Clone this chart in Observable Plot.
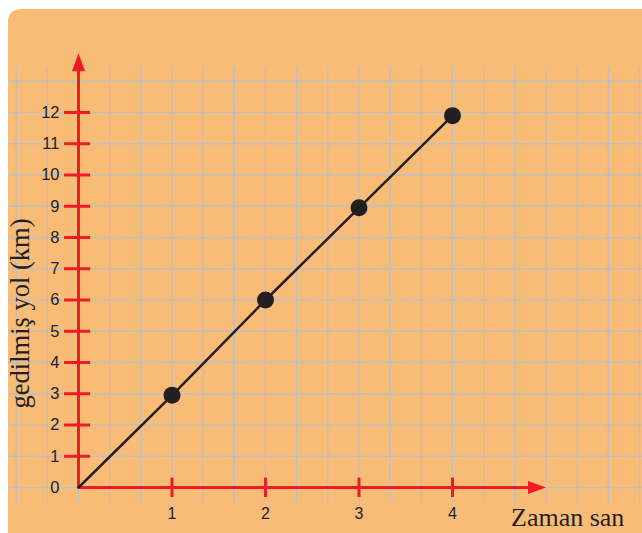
<!DOCTYPE html>
<html>
<head>
<meta charset="utf-8">
<script src="https://cdn.jsdelivr.net/npm/d3@7"></script>
<script src="https://cdn.jsdelivr.net/npm/@observablehq/plot@0.6"></script>
<style>
  html, body { margin: 0; padding: 0; background: #ffffff; }
  #wrap { position: relative; width: 642px; height: 533px; overflow: hidden; }
  #paper { position: absolute; left: 8px; top: 9px; width: 640px; height: 530px;
           background: #F9BC77; border-top-left-radius: 12px; }
  #chart { position: absolute; left: 0; top: 0; }
</style>
</head>
<body>
<div id="wrap"><div id="paper"></div><div id="chart"></div></div>
<script>
// Data
const times = [0, 1, 2, 3, 4];
const distances = [0, 2.95, 6, 8.95, 11.9];
const yTicks = [1, 2, 3, 4, 5, 6, 7, 8, 9, 10, 11, 12];
const yTickLabels = ["0", "1", "2", "3", "4", "5", "6", "7", "8", "9", "10", "11", "12"];
const xTicks = [1, 2, 3, 4];
const xTickLabels = ["1", "2", "3", "4"];
const yTitle = "gedilmiş yol (km)";
const xTitle = "Zaman san";

// structural grid (1/3 unit in x, 1 unit in y)
const xGrid = d3.range(-2, 19).map(k => k / 3);
const yGrid = d3.range(0, 14);
const xAxisEnd = 5;
const yAxisEnd = 13.9;

const red = "#ED1C24";
const ink = "#231F20";
const gridColor = "#BFBFC2";

const pts = times.map((t, i) => ({t, d: distances[i]}));
const arrowSymbol = {
  draw(context) {
    context.moveTo(0, 0);
    context.lineTo(6.5, 18);
    context.lineTo(-6.5, 18);
    context.closePath();
  }
};
const arrows = [
  {x: xAxisEnd, y: 0, rot: 90},
  {x: 0, y: yAxisEnd, rot: 0}
];

const chart = Plot.plot({
  width: 642,
  height: 533,
  margin: 0,
  x: {domain: [0, 5], range: [78, 545.5], axis: null},
  y: {domain: [0, 12], range: [487, 112], axis: null},
  style: {background: "transparent", overflow: "visible"},
  marks: [
    Plot.ruleY(yGrid, {x1: -0.75, x2: 6.2, stroke: gridColor, strokeWidth: 1.3}),
    Plot.ruleX(xGrid, {y1: -0.51, y2: 13.44, stroke: gridColor, strokeWidth: 1.3}),
    // axes
    Plot.ruleY([0], {x1: 0, x2: xAxisEnd - 0.17, stroke: red, strokeWidth: 3}),
    Plot.ruleX([0], {y1: 0, y2: yAxisEnd - 0.55, stroke: red, strokeWidth: 3}),
    Plot.dot(arrows, {x: "x", y: "y", rotate: "rot", symbol: arrowSymbol, fill: red, stroke: "none", r: 5}),
    // ticks
    Plot.ruleY(yTicks, {x1: -0.15, x2: 0.13, stroke: red, strokeWidth: 3}),
    Plot.ruleX(xTicks, {y1: -0.32, y2: 0.3, stroke: red, strokeWidth: 3}),
    // tick labels
    Plot.text(yTickLabels, {x: 0, y: (d, i) => i, text: d => d, dx: -19, textAnchor: "end",
      lineAnchor: "middle", fontSize: 16.5, fill: ink, fontFamily: "Liberation Sans, Arial, sans-serif"}),
    Plot.text(xTickLabels, {x: (d, i) => xTicks[i], y: 0, text: d => d, dy: 26.5,
      lineAnchor: "middle", fontSize: 16, fill: ink, fontFamily: "Liberation Sans, Arial, sans-serif"}),
    // titles
    Plot.text([yTitle], {x: 0, y: 5.57, dx: -50, text: d => d, rotate: -90, textAnchor: "middle",
      lineAnchor: "bottom", fontSize: 26.5, fill: ink, fontFamily: "Liberation Serif, Times New Roman, serif"}),
    Plot.text([xTitle], {x: xAxisEnd, y: 0, dx: -35, dy: 38, text: d => d, textAnchor: "start",
      lineAnchor: "bottom", fontSize: 26, fill: ink, fontFamily: "Liberation Serif, Times New Roman, serif"}),
    // data
    Plot.line(pts, {x: "t", y: "d", stroke: ink, strokeWidth: 2.5}),
    Plot.dot(pts.slice(1), {x: "t", y: "d", r: 8.5, fill: ink, stroke: "none"})
  ]
});
document.getElementById("chart").appendChild(chart);
</script>
</body>
</html>
